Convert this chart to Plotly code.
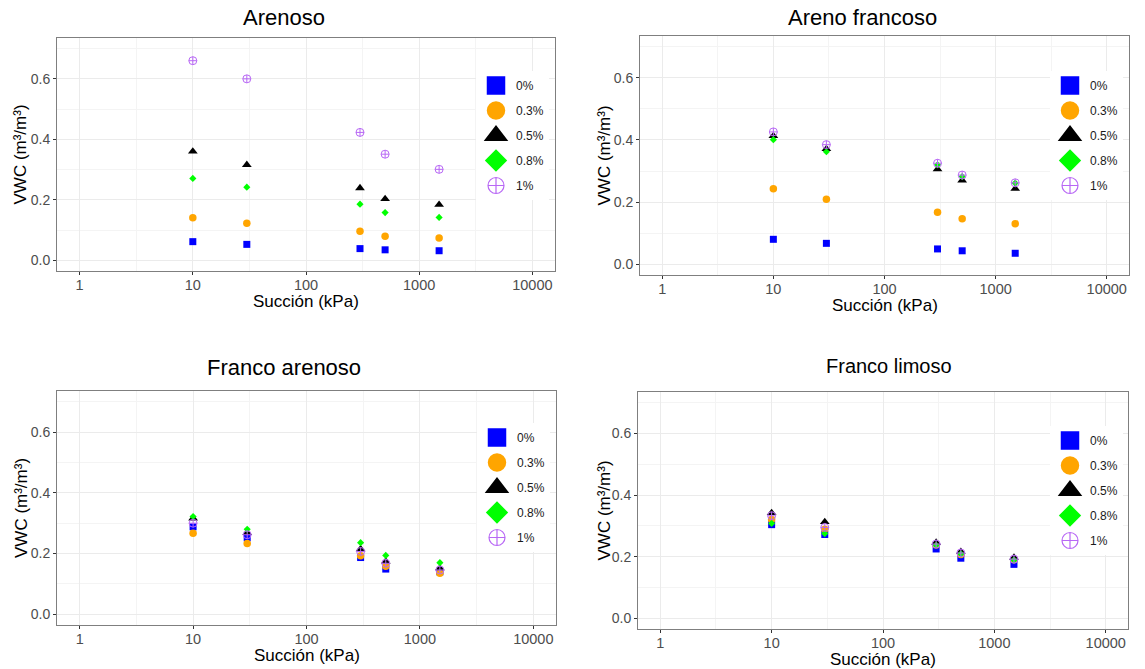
import plotly.graph_objects as go

# ---------------- data ----------------
suction = [10, 30, 300, 500, 1500]
series_names = ["0%", "0.3%", "0.5%", "0.8%", "1%"]
panel_titles = ["Arenoso", "Areno francoso", "Franco arenoso", "Franco limoso"]

arenoso_0 = [0.062, 0.053, 0.039, 0.035, 0.032]
arenoso_03 = [0.141, 0.123, 0.096, 0.080, 0.074]
arenoso_05 = [0.360, 0.316, 0.239, 0.203, 0.184]
arenoso_08 = [0.271, 0.242, 0.186, 0.158, 0.142]
arenoso_1 = [0.660, 0.600, 0.423, 0.351, 0.301]

arenofr_0 = [0.080, 0.067, 0.049, 0.043, 0.035]
arenofr_03 = [0.243, 0.209, 0.167, 0.146, 0.130]
arenofr_05 = [0.413, 0.371, 0.306, 0.270, 0.243]
arenofr_08 = [0.401, 0.362, 0.320, 0.282, 0.261]
arenofr_1 = [0.426, 0.385, 0.325, 0.287, 0.262]

francoar_0 = [0.288, 0.252, 0.187, 0.149, 0.140]
francoar_03 = [0.267, 0.233, 0.193, 0.158, 0.135]
francoar_05 = [0.316, 0.268, 0.215, 0.174, 0.152]
francoar_08 = [0.322, 0.280, 0.236, 0.194, 0.170]
francoar_1 = [0.300, 0.262, 0.207, 0.168, 0.146]

francolim_0 = [0.304, 0.272, 0.225, 0.195, 0.175]
francolim_03 = [0.321, 0.289, 0.238, 0.207, 0.190]
francolim_05 = [0.342, 0.313, 0.246, 0.216, 0.197]
francolim_08 = [0.308, 0.275, 0.237, 0.209, 0.189]
francolim_1 = [0.333, 0.295, 0.241, 0.212, 0.192]

panels = [
    [arenoso_0, arenoso_03, arenoso_05, arenoso_08, arenoso_1],
    [arenofr_0, arenofr_03, arenofr_05, arenofr_08, arenofr_1],
    [francoar_0, francoar_03, francoar_05, francoar_08, francoar_1],
    [francolim_0, francolim_03, francolim_05, francolim_08, francolim_1],
]

x_ticks = [1, 10, 100, 1000, 10000]
x_ticktext = ["1", "10", "100", "1000", "10000"]
x_minor = [3.1623, 31.623, 316.23, 3162.3]
y_ticks = [0.0, 0.2, 0.4, 0.6]
y_minor = [0.1, 0.3, 0.5, 0.7]

# ---------------- style ----------------
FONT = "Liberation Sans, Arial, sans-serif"
W, H = 1145, 669
symbols = ["square", "circle", "triangle-up", "diamond", "circle-cross-open"]
colors = ["#0000FF", "#FFA500", "#000000", "#00FF00", "#B868F5"]
data_sizes = [7, 7.5, 8.5, 5.5, 8]
legend_sizes = [16, 16, 16, 15, 16]
legend_lw = [2.5, 2.5, 3, 2, 1.2]

# pixel geometry of the four panels: (left, right, top, bottom)
boxes = [
    (57, 555, 38, 271),
    (640, 1129, 36, 275),
    (57, 556, 391, 625),
    (638, 1128, 392, 629),
]
legend_pos = [(476, 71), (1050, 71), (477, 423), (1050, 426)]
title_pos = [(284, 18, 22), (862, 18, 22), (284, 367, 22), (889, 366, 20)]
xtitle_y = [301, 305, 655, 659]
ytitle_x = [20, 604, 21, 604]

fig = go.Figure()
annotations = []
layout = {}

for p in range(4):
    ax = "" if p == 0 else str(p + 1)
    xa, ya = "x" + ax, "y" + ax
    leg = "legend" if p == 0 else "legend" + str(p + 1)
    l, r, t, b = boxes[p]
    for s in range(5):
        fig.add_trace(go.Scatter(
            x=suction, y=panels[p][s], mode="markers", xaxis=xa, yaxis=ya,
            name=series_names[s], legend=leg, legendgroup=f"p{p}s{s}", showlegend=False,
            marker=dict(symbol=symbols[s], color=colors[s], size=data_sizes[s],
                        line=dict(width=1 if s == 4 else 0, color=colors[s])),
        ))
    for s in range(5):
        fig.add_trace(go.Scatter(
            x=[None], y=[None], mode="markers", xaxis=xa, yaxis=ya,
            name=series_names[s], legend=leg, legendgroup=f"p{p}s{s}", showlegend=True,
            marker=dict(symbol=symbols[s], color=colors[s], size=legend_sizes[s],
                        line=dict(width=legend_lw[s], color=colors[s])),
        ))
    layout["xaxis" + ax] = dict(
        type="log", range=[-0.2, 4.2], domain=[l / W, r / W], anchor=ya,
        tickvals=x_ticks, ticktext=x_ticktext, ticks="outside", ticklen=3,
        ticklabelstandoff=-2,
        tickcolor="#333333", tickfont=dict(size=14.5, color="#4D4D4D", family=FONT),
        showgrid=True, gridcolor="#EBEBEB", gridwidth=1,
        minor=dict(tickvals=x_minor, showgrid=True, gridcolor="#F4F4F4", gridwidth=1, ticks=""),
        showline=True, mirror=True, linecolor="#7F7F7F", linewidth=1, zeroline=False,
    )
    layout["yaxis" + ax] = dict(
        range=[-0.035, 0.735], domain=[1 - b / H, 1 - t / H], anchor=xa,
        tickvals=y_ticks, tickformat=".1f", ticks="outside", ticklen=3,
        tickcolor="#333333", tickfont=dict(size=14, color="#4D4D4D", family=FONT),
        showgrid=True, gridcolor="#EBEBEB", gridwidth=1,
        minor=dict(tickvals=y_minor, showgrid=True, gridcolor="#F4F4F4", gridwidth=1, ticks=""),
        showline=True, mirror=True, linecolor="#7F7F7F", linewidth=1, zeroline=False,
    )
    lx, ly = legend_pos[p]
    layout[leg] = dict(
        x=lx / W, y=1 - ly / H, xanchor="left", yanchor="top",
        bgcolor="white", borderwidth=0, traceorder="grouped", tracegroupgap=6,
        font=dict(size=12, color="#1A1A1A", family=FONT), itemclick=False, itemdoubleclick=False,
    )
    tx, ty, ts = title_pos[p]
    annotations.append(dict(text=panel_titles[p], x=tx / W, y=1 - ty / H, xref="paper", yref="paper",
                            xanchor="center", yanchor="middle", showarrow=False,
                            font=dict(size=ts, color="black", family=FONT)))
    annotations.append(dict(text="Succión (kPa)", x=(l + r) / 2 / W, y=1 - xtitle_y[p] / H,
                            xref="paper", yref="paper", xanchor="center", yanchor="middle",
                            showarrow=False, font=dict(size=17, color="black", family=FONT)))
    annotations.append(dict(text="VWC (m³/m³)", x=ytitle_x[p] / W, y=1 - (t + b) / 2 / H,
                            xref="paper", yref="paper", xanchor="center", yanchor="middle",
                            textangle=-90, showarrow=False,
                            font=dict(size=17, color="black", family=FONT)))

fig.update_layout(
    width=W, height=H, margin=dict(l=0, r=0, t=0, b=0),
    paper_bgcolor="white", plot_bgcolor="white",
    font=dict(family=FONT), annotations=annotations, **layout,
)

fig.write_html("out.html")
